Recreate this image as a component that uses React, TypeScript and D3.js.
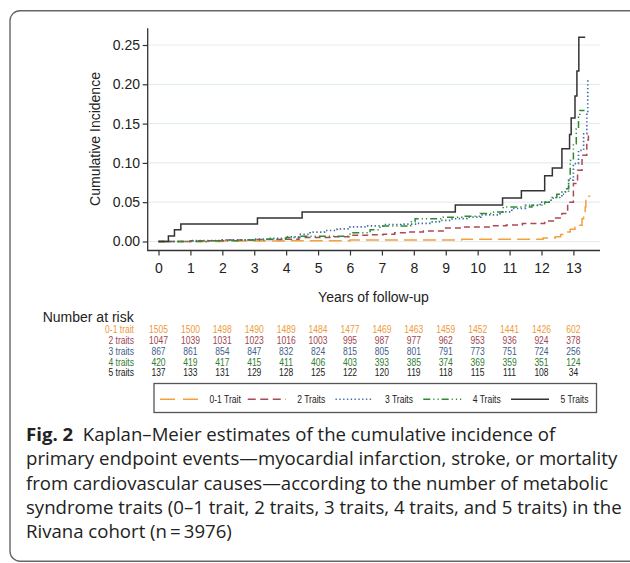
import React, { useEffect, useRef } from "react";
import * as d3 from "d3";

// axis ticks
const xTicks = [0, 1, 2, 3, 4, 5, 6, 7, 8, 9, 10, 11, 12, 13];
const yTicks = [0, 0.05, 0.1, 0.15, 0.2, 0.25];

// group names
const rowLabels = ["0-1 trait", "2 traits", "3 traits", "4 traits", "5 traits"];
const legendLabels = ["0-1 Trait", "2 Traits", "3 Traits", "4 Traits", "5 Traits"];

// step curves (time in years, cumulative incidence)
const oneTraitT = [0, 2, 4, 6, 9.5, 12.05, 12.43, 12.6, 12.75, 12.9, 13.05, 13.18, 13.27, 13.32, 13.37, 13.39, 13.53];
const oneTraitV = [0, 0.0005, 0.001, 0.002, 0.003, 0.0045, 0.006, 0.009, 0.012, 0.0156, 0.018, 0.0207, 0.029, 0.0325, 0.044, 0.0576, 0.0576];

const twoTraitsT = [0, 1, 2, 3, 4, 4.4, 5.5, 6, 6.6, 7.04, 7.4, 7.8, 8.3, 8.92, 9.5, 10.4, 10.9, 11.4, 12.1, 12.4, 12.64, 12.82, 13.0, 13.13, 13.27, 13.42, 13.47];
const twoTraitsV = [0, 0.001, 0.002, 0.0025, 0.003, 0.005, 0.006, 0.008, 0.0085, 0.0093, 0.011, 0.012, 0.0135, 0.0173, 0.0186, 0.02, 0.021, 0.023, 0.026, 0.03, 0.0356, 0.05, 0.0737, 0.0906, 0.1097, 0.129, 0.139];

const threeTraitsT = [0, 1, 2, 3, 3.5, 4.0, 4.4, 4.75, 5.2, 5.6, 6.0, 6.5, 7.05, 7.6, 8.1, 8.5, 8.8, 9.2, 9.66, 10.1, 10.7, 11.07, 11.5, 11.96, 12.3, 12.64, 12.85, 13.0, 13.16, 13.32, 13.42, 13.45];
const threeTraitsV = [0, 0.001, 0.002, 0.003, 0.004, 0.006, 0.009, 0.012, 0.014, 0.016, 0.0186, 0.02, 0.0216, 0.022, 0.023, 0.025, 0.027, 0.029, 0.031, 0.034, 0.0376, 0.042, 0.046, 0.05, 0.056, 0.063, 0.078, 0.099, 0.116, 0.137, 0.163, 0.207];

const fourTraitsT = [0, 1.5, 2.5, 3.3, 4.0, 4.44, 6.0, 6.63, 6.94, 7.9, 8.04, 8.92, 9.5, 10.08, 10.5, 10.8, 11.7, 12.1, 12.3, 12.48, 12.74, 12.85, 12.9, 13.0, 13.09, 13.16, 13.2, 13.35];
const fourTraitsV = [0, 0.001, 0.002, 0.003, 0.005, 0.0067, 0.011, 0.015, 0.0198, 0.025, 0.029, 0.031, 0.032, 0.0356, 0.0376, 0.044, 0.046, 0.05, 0.055, 0.06, 0.067, 0.08, 0.103, 0.1245, 0.1435, 0.158, 0.1668, 0.1668];

const fiveTraitsT = [0, 0.31, 0.5, 0.7, 3.1, 4.5, 9.3, 10.78, 11.37, 12.1, 12.34, 12.64, 12.88, 12.93, 13.05, 13.11, 13.17, 13.37];
const fiveTraitsV = [0, 0.007, 0.015, 0.0224, 0.03, 0.0375, 0.0465, 0.0555, 0.0645, 0.0835, 0.0935, 0.118, 0.136, 0.157, 0.185, 0.217, 0.26, 0.26];

// number at risk at each year
const riskOne = [1505, 1500, 1498, 1490, 1489, 1484, 1477, 1469, 1463, 1459, 1452, 1441, 1426, 602];
const riskTwo = [1047, 1039, 1031, 1023, 1016, 1003, 995, 987, 977, 962, 953, 936, 924, 378];
const riskThree = [867, 861, 854, 847, 832, 824, 815, 805, 801, 791, 773, 751, 724, 256];
const riskFour = [420, 419, 417, 415, 411, 406, 403, 393, 385, 374, 369, 359, 351, 124];
const riskFive = [137, 133, 131, 129, 128, 125, 122, 120, 119, 118, 115, 111, 108, 34];

const captionBold = "Fig. 2";
const captionLines = [
  "  Kaplan\u2013Meier estimates of the cumulative incidence of",
  "primary endpoint events\u2014myocardial infarction, stroke, or mortality",
  "from cardiovascular causes\u2014according to the number of metabolic",
  "syndrome traits (0\u20131 trait, 2 traits, 3 traits, 4 traits, and 5 traits) in the",
  "Rivana cohort (n\u2009=\u20093976)",
];

const lineColors = ["#f4a03c", "#a94a55", "#3e6fa3", "#2f8a2f", "#333333"];
const textColors = ["#f0993a", "#9d4652", "#40618a", "#2f7d2f", "#222222"];
const dashes = ["13,6", "6,4", "1.4,2.4", "7,3,1.2,3,1.2,3", null];

const SANS = "'Liberation Sans', Arial, sans-serif";
// no narrow face installed: squeeze Liberation Sans instead
const NARROW_SCALE = 0.82;

const App = () => {
  const ref = useRef<SVGSVGElement>(null);

  useEffect(() => {
    const svg = d3.select(ref.current);
    svg.selectAll("*").remove();

    // frame around figure + caption
    svg
      .append("rect")
      .attr("x", 10)
      .attr("y", 10.7)
      .attr("width", 640)
      .attr("height", 550.5)
      .attr("rx", 10)
      .attr("fill", "none")
      .attr("stroke", "#666")
      .attr("stroke-width", 1.4);

    const x = d3.scaleLinear().domain([0, 13]).range([158.5, 573.4]);
    const y = d3.scaleLinear().domain([0, 0.25]).range([241.5, 45]);

    // gridlines
    svg
      .append("g")
      .selectAll("line")
      .data(yTicks)
      .enter()
      .append("line")
      .attr("x1", 148.5)
      .attr("x2", 600)
      .attr("y1", (d) => y(d))
      .attr("y2", (d) => y(d))
      .attr("stroke", "#e4edf1")
      .attr("stroke-width", 1.2);

    // axes
    const yAxis = svg
      .append("g")
      .attr("transform", "translate(147.7,0)")
      .call(
        d3
          .axisLeft(y)
          .tickValues(yTicks)
          .tickFormat(d3.format(".2f"))
          .tickSize(5)
          .tickPadding(2.7)
      );
    const xAxis = svg
      .append("g")
      .attr("transform", "translate(0,250.5)")
      .call(d3.axisBottom(x).tickValues(xTicks).tickSize(5).tickPadding(7.9));
    [yAxis, xAxis].forEach((g) => {
      g.select(".domain").remove();
      g.selectAll("line").attr("stroke", "#333").attr("stroke-width", 1.2);
      g.selectAll("text")
        .attr("font-family", SANS)
        .attr("font-size", 14)
        .attr("fill", "#222");
    });
    svg
      .append("path")
      .attr("d", "M147.7,28.3V250.5H600")
      .attr("fill", "none")
      .attr("stroke", "#333")
      .attr("stroke-width", 1.3);

    // curves
    const series = [
      [oneTraitT, oneTraitV],
      [twoTraitsT, twoTraitsV],
      [threeTraitsT, threeTraitsV],
      [fourTraitsT, fourTraitsV],
      [fiveTraitsT, fiveTraitsV],
    ];
    const line = d3
      .line<[number, number]>()
      .x((d) => x(d[0]))
      .y((d) => y(d[1]))
      .curve(d3.curveStepAfter);
    series.forEach(([ts, vs], i) => {
      const pts = ts.map((t, j) => [t, vs[j]] as [number, number]);
      svg
        .append("path")
        .attr("d", line(pts))
        .attr("fill", "none")
        .attr("stroke", lineColors[i])
        .attr("stroke-width", i === 2 ? 1.7 : 1.5)
        .attr("stroke-dasharray", dashes[i]);
    });

    // titles
    svg
      .append("text")
      .attr("transform", "translate(99.5,139) rotate(-90)")
      .attr("text-anchor", "middle")
      .attr("font-family", SANS)
      .attr("font-size", 14)
      .attr("fill", "#222")
      .text("Cumulative Incidence");
    svg
      .append("text")
      .attr("x", 373.5)
      .attr("y", 302)
      .attr("text-anchor", "middle")
      .attr("font-family", SANS)
      .attr("font-size", 14)
      .attr("fill", "#222")
      .text("Years of follow-up");

    // number at risk table
    svg
      .append("text")
      .attr("x", 42.7)
      .attr("y", 322)
      .attr("font-family", SANS)
      .attr("font-size", 14)
      .attr("fill", "#222")
      .text("Number at risk");

    const narrowText = (
      parent: d3.Selection<any, any, any, any>,
      tx: number,
      ty: number,
      anchor: string,
      s: string | number
    ) =>
      parent
        .append("text")
        .attr("transform", `translate(${tx},${ty}) scale(${NARROW_SCALE},1)`)
        .attr("text-anchor", anchor)
        .text(s);

    const risk = [riskOne, riskTwo, riskThree, riskFour, riskFive];
    const rowY = d3.scaleLinear().domain([0, 4]).range([333.4, 376.3]);
    risk.forEach((row, i) => {
      const g = svg
        .append("g")
        .attr("font-family", SANS)
        .attr("font-size", 10.4)
        .attr("fill", textColors[i]);
      narrowText(g, 134, rowY(i), "end", rowLabels[i]);
      row.forEach((n, j) => narrowText(g, x(xTicks[j]), rowY(i), "middle", n));
    });

    // legend
    svg
      .append("rect")
      .attr("x", 154)
      .attr("y", 383.5)
      .attr("width", 442.5)
      .attr("height", 29)
      .attr("fill", "none")
      .attr("stroke", "#555")
      .attr("stroke-width", 1.3);
    const legendX = d3.scaleLinear().domain([0, 4]).range([160, 511]);
    const lg = svg
      .append("g")
      .attr("font-family", SANS)
      .attr("font-size", 10.4)
      .attr("fill", "#222");
    legendLabels.forEach((lab, i) => {
      const lx = legendX(i);
      lg.append("line")
        .attr("x1", lx)
        .attr("x2", lx + 38)
        .attr("y1", 399.3)
        .attr("y2", 399.3)
        .attr("stroke", lineColors[i])
        .attr("stroke-width", 1.5)
        .attr("stroke-dasharray", i === 0 ? "15,8" : i === 1 ? "8,4.5" : dashes[i]);
      narrowText(lg, lx + 49.5, 403, "start", lab);
    });

    // caption
    const cap = svg
      .append("g")
      .attr("font-family", "'Open Sans', sans-serif")
      .attr("font-size", 18.6)
      .attr("fill", "#222");
    const capY = d3.scaleLinear().domain([0, 4]).range([441, 538]);
    const first = cap
      .append("text")
      .attr("x", 26)
      .attr("y", capY(0))
      .attr("xml:space", "preserve");
    first.append("tspan").attr("font-weight", "bold").text(captionBold);
    first.append("tspan").text(captionLines[0]);
    captionLines.slice(1).forEach((l, i) => {
      cap
        .append("text")
        .attr("x", 26)
        .attr("y", capY(i + 1))
        .text(l);
    });
  }, []);

  return (
    <svg
      ref={ref}
      width={630}
      height={563}
      style={{ position: "absolute", left: 0, top: 0, background: "#fff" }}
    />
  );
};

export default App;
